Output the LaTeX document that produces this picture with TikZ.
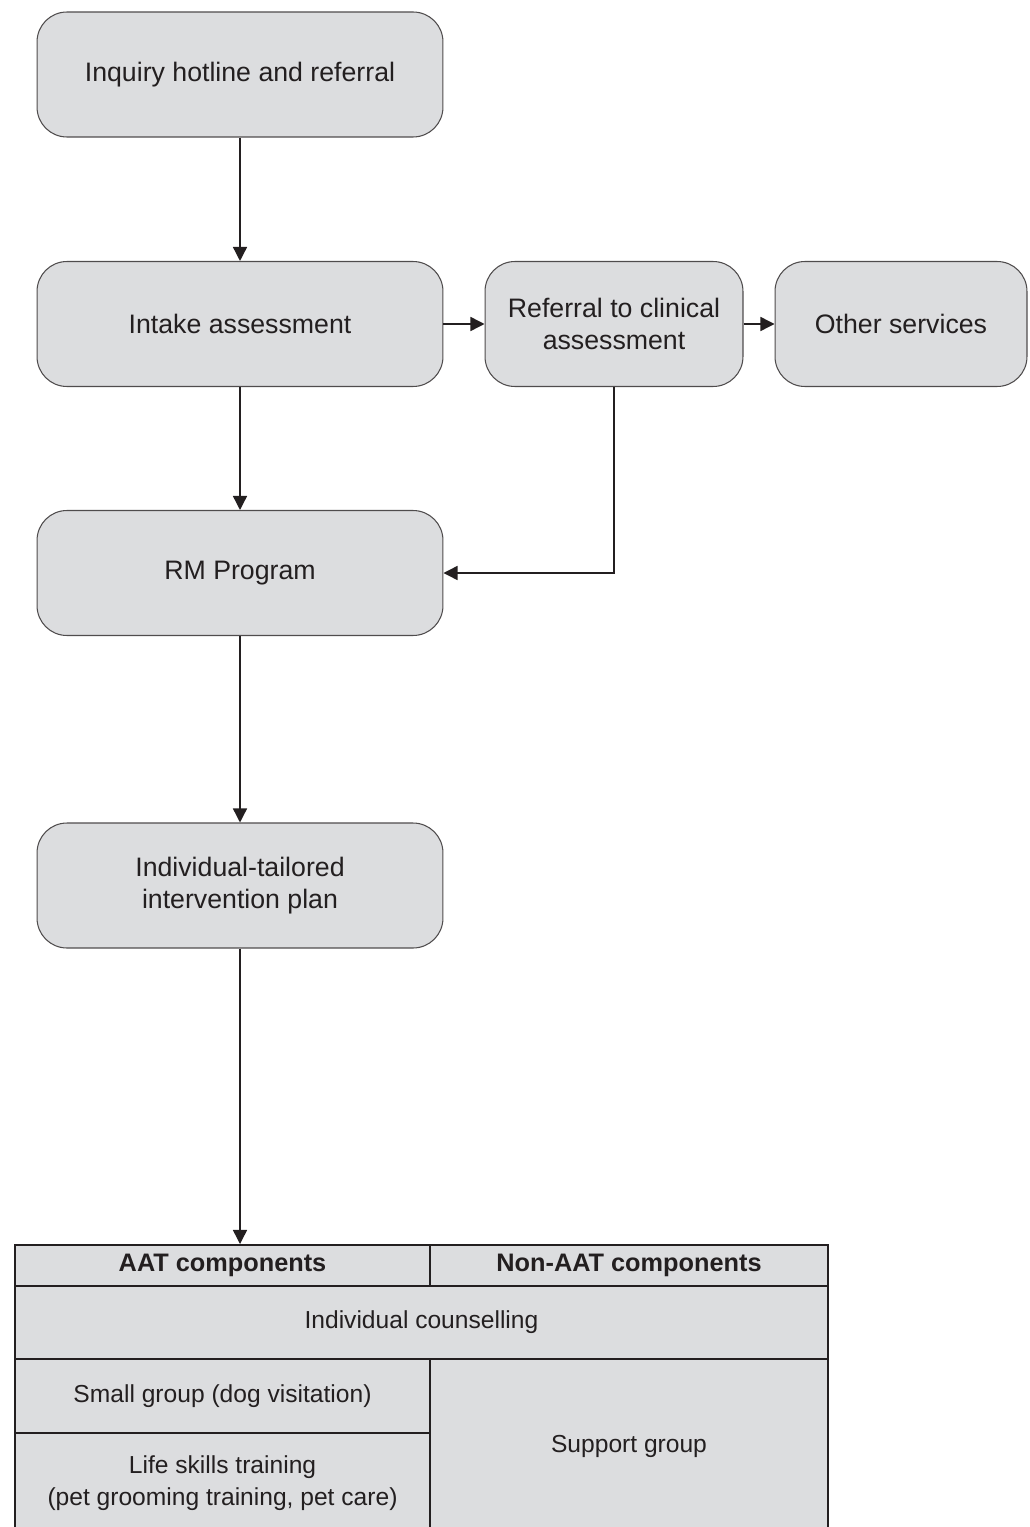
\documentclass[tikz,border=0pt]{standalone}
\usepackage{fontspec}
\setmainfont{Liberation Sans}
\usetikzlibrary{positioning,calc,arrows.meta}
\definecolor{boxgray}{RGB}{220,221,223}
\definecolor{ink}{RGB}{35,31,32}
\tikzset{
	stage/.style={draw=ink!80, fill=boxgray, rounded corners=17pt, line width=0.6pt,
		minimum width=8.12cm, minimum height=2.5cm, align=center, text=ink,
		font=\fontsize{15.2}{18}\selectfont, inner sep=2pt},
	cell/.style={draw=ink, fill=boxgray, line width=1.2pt, anchor=north west,
		inner sep=0pt, align=center, text=ink, font=\fontsize{14}{18}\selectfont},
	flow/.style={-{Triangle[length=8pt,width=8pt]}, line width=0.8pt, draw=ink},
}

\begin{document}
\begin{tikzpicture}[x=0.02cm, y=-0.02cm]
	\useasboundingbox (0,0) rectangle (1029,1527);

	% flow chart
	\node[stage] (inq)    at (240,74.5) {Inquiry hotline and referral};
	\node[stage] (intake) at (240,324)  {Intake assessment};
	\node[stage, minimum width=5.16cm] (ref)   at (614,324) {Referral to clinical\\assessment};
	\node[stage, minimum width=5.04cm] (other) at (901,324) {Other services};
	\node[stage] (rm)     at (240,573)  {RM Program};
	\node[stage] (itp)    at (240,885.5) {Individual-tailored\\intervention plan};

	% components table
	\node[cell, minimum width=8.3cm,  minimum height=0.82cm, font=\fontsize{14.4}{18}\selectfont\bfseries] (aat)    at (14,1244)  {AAT components};
	\node[cell, minimum width=7.96cm, minimum height=0.82cm, font=\fontsize{14.4}{18}\selectfont\bfseries] (nonaat) at (429,1244) {Non-AAT components};
	\node[cell, minimum width=16.26cm, minimum height=1.46cm] (counsel) at (14,1285)  {Individual counselling};
	\node[cell, minimum width=8.3cm,  minimum height=1.48cm] (small)   at (14,1358)  {Small group (dog visitation)};
	\node[cell, minimum width=8.3cm,  minimum height=2.0cm]  (life)    at (14,1432)  {Life skills training\\(pet grooming training, pet care)};
	\node[cell, minimum width=7.96cm, minimum height=3.48cm] (support) at (429,1358) {Support group};

	\draw[flow] (inq) -- (intake);
	\draw[flow] (intake) -- (ref);
	\draw[flow] (ref) -- (other);
	\draw[flow] (ref.south) |- (rm.east);
	\draw[flow] (intake) -- (rm);
	\draw[flow] (rm) -- (itp);
	\draw[flow] (itp.south) -- (itp.south |- aat.north);
\end{tikzpicture}
\end{document}
